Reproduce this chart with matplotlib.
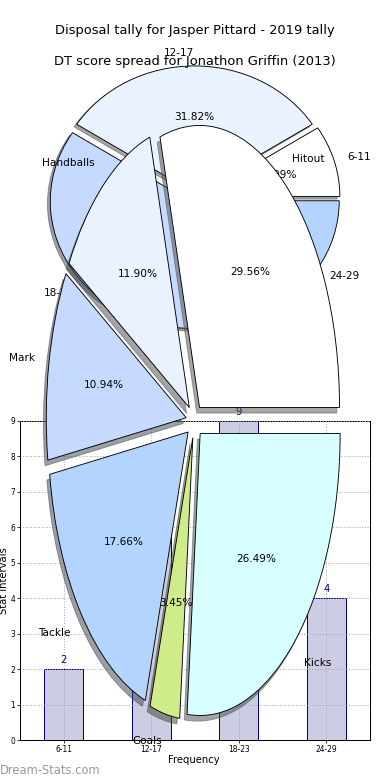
import matplotlib
matplotlib.use("Agg")
import matplotlib.pyplot as plt

# ---- data ----
bar_categories = ["6-11", "12-17", "18-23", "24-29"]
bar_values = [2, 7, 9, 4]

dt_labels = ["6-11", "12-17", "18-23", "24-29"]
dt_counts = [2, 7, 9, 4]

disp_labels = ["Hitout", "Handballs", "Mark", "Tackle", "Goals", "Kicks"]
disp_values = [29.56, 11.90, 10.94, 17.66, 3.45, 26.49]

title_top = "Disposal tally for Jasper Pittard - 2019 tally"
title_second = "DT score spread for Jonathon Griffin (2013)"

pie_colors = ["#FFFFFF", "#EAF1FF", "#C6D9FF", "#B3D4FF", "#D0EC8A", "#D8FFFF"]

W, H, DPI = 390, 780, 72
fig = plt.figure(figsize=(W / DPI, H / DPI), dpi=DPI)
fig.patch.set_facecolor("white")


def rect(left, top, width, height):
    return [left / W, 1 - (top + height) / H, width / W, height / H]


# ---- bar chart ----
ax = fig.add_axes(rect(20, 421, 350, 319))
x = list(range(len(bar_categories)))
bars = ax.bar(x, bar_values, width=0.45, color="#CCCCE5", edgecolor="#000080",
              linewidth=1.0, zorder=1)
for xi, v in zip(x, bar_values):
    ax.text(xi, v + 0.12, str(v), ha="center", va="bottom", color="#000080",
            fontsize=10, clip_on=False)
ax.set_xlim(-0.5, 3.5)
ax.set_ylim(0, 9)
ax.set_yticks(range(0, 10))
ax.set_xticks(x)
ax.set_xticklabels(bar_categories)
ax.tick_params(labelsize=7.5, direction="out", length=3, pad=2)
ax.grid(True, linestyle=":", color="#AAAAAA", linewidth=1.0)
ax.set_axisbelow(False)
for s in ax.spines.values():
    s.set_linewidth(1.0)
fig.text(194 / W, 1 - 760 / H, "Frequency", ha="center", va="center", fontsize=10)
fig.text(4 / W, 1 - 580.5 / H, "Stat Intervals", ha="center", va="center",
         rotation=90, fontsize=10)


def draw_pie(axp, vals, labels, explode, title, pad):
    axp.pie(vals, labels=labels, colors=pie_colors[:len(vals)],
            explode=[explode] * len(vals), autopct="%.2f%%", shadow=True,
            startangle=0, labeldistance=1.1, pctdistance=0.6,
            wedgeprops=dict(edgecolor="black", linewidth=0.9),
            textprops=dict(fontsize=10.5, color="black"))
    axp.set_aspect("auto")
    axp.set_xlim(-1.25, 1.25)
    axp.set_ylim(-1.25, 1.25)
    axp.set_axis_off()
    axp.set_title(title, fontsize=13, pad=pad)


# ---- DT score pie ----
ax_dt = fig.add_axes(rect(19.5, 39.25, 350, 317.5))
draw_pie(ax_dt, dt_counts, dt_labels, 0.04, title_top, 5.5)

# ---- disposal pie ----
ax_dp = fig.add_axes(rect(19.5, 68.5, 350, 705))
draw_pie(ax_dp, disp_values, disp_labels, 0.06, title_second, 3.5)

fig.text(0, 1 - 770 / H, "Dream-Stats.com", ha="left", va="center",
         fontsize=11.5, color="#999999")

fig.savefig("out.png", dpi=DPI)
